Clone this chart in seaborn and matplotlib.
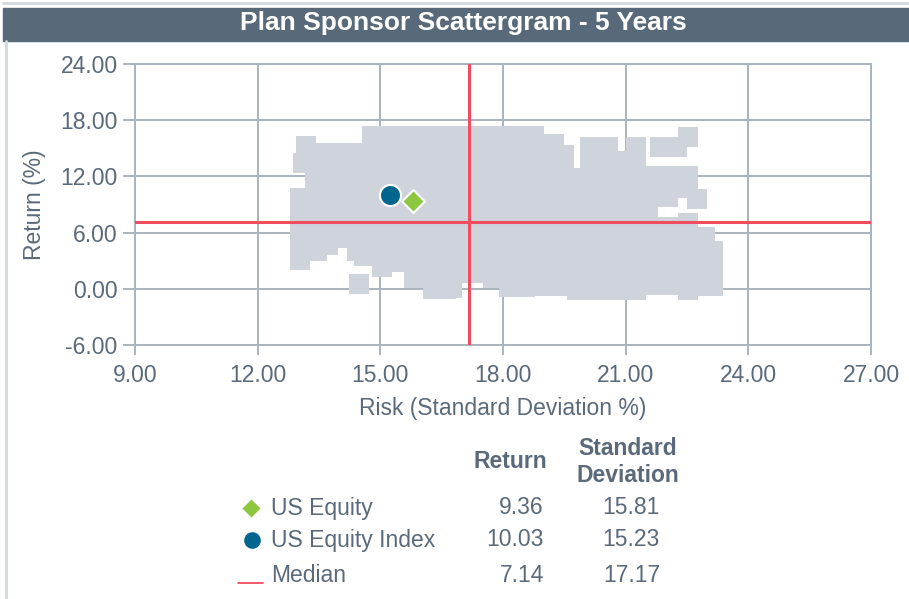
import matplotlib

matplotlib.use("Agg")
import matplotlib.pyplot as plt
import numpy as np
import pandas as pd
import seaborn as sns
from matplotlib.lines import Line2D
from matplotlib.patches import Rectangle

# ---- data -------------------------------------------------------------------
# plan sponsor universe: (risk, [returns])
universe_left = [
    (13.03, [3.1, 4.0, 6.05, 8.1, 9.7]),
    (13.10, [13.4]),
    (13.19, [15.3]),
    (13.40, [11.6]),
    (13.45, [4.0, 6.05, 8.1, 10.15, 12.2, 14.25, 14.5]),
    (13.72, [4.7, 6.05, 8.1, 10.15, 12.2, 14.25, 14.5]),
    (14.02, [5.4, 6.05, 8.1, 10.15, 12.2, 14.25, 14.5]),
    (14.43, [4.0, 6.05, 8.1, 10.15, 12.2, 14.25, 14.5]),
    (14.48, [0.55]),
    (14.60, [3.5]),
    (14.80, [4.0, 6.05, 8.1, 10.15, 12.2, 14.25, 16.3]),
    (15.03, [2.3]),
    (15.25, [2.9, 4.0, 6.05, 8.1, 10.15, 12.2, 14.25, 16.3]),
    (15.70, [2.9, 4.0, 6.05, 8.1, 10.15, 12.2, 14.25, 16.3]),
    (15.82, [1.2]),
    (16.15, [1.2, 1.95, 4.0, 6.05, 8.1, 10.15, 12.2, 14.25, 16.3]),
    (16.29, [0.0]),
]
universe_middle = [
    (16.60, [0.0, 1.95, 4.0, 6.05, 8.1, 10.15, 12.2, 14.25, 16.3]),
    (16.76, [0.05]),
    (16.98, [1.7, 3.0, 4.0, 6.05, 8.1, 10.15, 12.2, 14.25, 16.3]),
    (17.40, [1.7, 3.0, 4.0, 6.05, 8.1, 10.15, 12.2, 14.25, 16.3]),
    (17.75, [1.2, 1.95, 4.0, 6.05, 8.1, 10.15, 12.2, 14.25, 16.3]),
    (18.15, [0.2, 1.95, 4.0, 6.05, 8.1, 10.15, 12.2, 14.25, 16.3]),
    (18.55, [0.2, 1.95, 4.0, 6.05, 8.1, 10.15, 12.2, 14.25, 16.3]),
    (18.76, [0.3, 1.95, 4.0, 6.05, 8.1, 10.15, 12.2, 14.25, 16.3]),
    (19.25, [0.3, 1.95, 4.0, 6.05, 8.1, 10.15, 12.2, 14.25, 15.5]),
    (19.50, [0.3, 1.95, 4.0, 6.05, 8.1, 10.15, 12.2, 14.3]),
]
universe_right = [
    (19.81, [-0.1, 1.95, 4.0, 6.05, 8.1, 10.15, 11.8]),
    (20.12, [-0.1, 1.95, 4.0, 6.05, 8.1, 10.15, 12.2, 14.25, 15.1]),
    (20.58, [-0.1, 1.95, 4.0, 6.05, 8.1, 10.15, 12.2, 14.25, 15.1]),
    (20.90, [-0.1, 1.95, 4.0, 6.05, 8.1, 10.15, 12.2, 13.7]),
    (21.25, [-0.1, 1.95, 4.0, 6.05, 8.1, 10.15, 12.2, 14.25, 15.1]),
    (21.55, [0.4, 1.95, 4.0, 6.05, 8.1, 10.15, 12.1]),
    (21.85, [15.1]),
    (22.03, [0.4, 1.95, 4.0, 6.05, 6.6, 9.8, 10.15, 12.1]),
    (22.25, [15.1]),
    (22.52, [-0.1, 1.95, 4.0, 6.05, 7.0, 10.8, 12.1]),
    (22.53, [16.2]),
    (22.75, [9.6]),
    (22.95, [0.3, 1.95, 4.0, 5.5]),
    (23.14, [0.3, 1.95, 4.0]),
]

series_names = ["US Equity", "US Equity Index", "Median"]
series_return = [9.36, 10.03, 7.14]
series_sd = [15.81, 15.23, 17.17]

x_ticks = [9, 12, 15, 18, 21, 24, 27]
y_ticks = [-6, 0, 6, 12, 18, 24]

# ---- style ------------------------------------------------------------------
GRID = "#A9B3BF"
TEXT = "#5A6A7A"
CLOUD = "#CFD4DC"
RED = "#F04E5F"
GREEN = "#8DC63F"
BLUE = "#00668E"
BAR = "#586A79"
FS = 16.5

sns.set_theme(style="white")
plt.rcParams["font.family"] = ["Liberation Sans", "DejaVu Sans"]

rows = [(r, v) for cols in (universe_left, universe_middle, universe_right)
        for r, vals in cols for v in vals]
universe = pd.DataFrame(rows, columns=["risk", "return"])

fig = plt.figure(figsize=(9.09, 5.99), dpi=100)
ax = fig.add_axes([0.1485, 0.424, 0.8097, 0.469])

sns.scatterplot(data=universe, x="risk", y="return", marker="s", s=207,
                color=CLOUD, linewidth=0, ax=ax, zorder=2, legend=False)

ax.axvline(series_sd[2], color=RED, lw=2.2, zorder=3)
ax.axhline(series_return[2], color=RED, lw=2.2, zorder=3)

pts = pd.DataFrame({"risk": series_sd[:2], "return": series_return[:2]})
sns.scatterplot(data=pts.iloc[[1]], x="risk", y="return", marker="o", s=230,
                color=BLUE, edgecolor="white", linewidth=1.5, ax=ax, zorder=5, legend=False)
sns.scatterplot(data=pts.iloc[[0]], x="risk", y="return", marker="D", s=135,
                color=GREEN, edgecolor="white", linewidth=1.5, ax=ax, zorder=5, legend=False)

ax.set_xlim(9, 27)
ax.set_ylim(-6, 24)
ax.set_xticks(x_ticks)
ax.set_yticks(y_ticks)
ax.set_xticklabels([f"{t:.2f}" for t in x_ticks])
ax.set_yticklabels([f"{t:.2f}" for t in y_ticks])
ax.grid(True, color=GRID, lw=1.4)
ax.set_axisbelow(True)
for sp in ax.spines.values():
    sp.set_color(GRID)
    sp.set_linewidth(1.4)
ax.tick_params(axis="y", length=8.5, width=1.4, color=GRID, pad=4,
               labelsize=FS, labelcolor=TEXT, left=True)
ax.tick_params(axis="x", length=7, width=1.4, color=GRID, pad=7,
               labelsize=FS, labelcolor=TEXT, bottom=True)
ax.set_xlabel("Risk (Standard Deviation %)", fontsize=FS, color=TEXT, labelpad=7)
ax.set_ylabel("Return (%)", fontsize=FS, color=TEXT, labelpad=10)

# ---- title bar and frame ----------------------------------------------------
W, H = 909, 599
fig.patches.append(Rectangle((3 / W, 1 - 41 / H), 1, 33 / H, transform=fig.transFigure,
                             color=BAR, zorder=0))
fig.add_artist(Line2D([5.5 / W, 5.5 / W], [0, 1 - 41 / H], color="#D3D8DF", lw=2))
fig.add_artist(Line2D([3 / W, 1], [1 - 3 / H, 1 - 3 / H], color="#D3D8DF", lw=2))
fig.text(463 / W, 1 - 23 / H, "Plan Sponsor Scattergram - 5 Years", color="white",
         fontsize=19, fontweight="bold", ha="center", va="center")

# ---- table ------------------------------------------------------------------
fig.text(510 / W, 1 - 462 / H, "Return", fontsize=FS, fontweight="bold", color=TEXT,
         ha="center", va="center")
fig.text(628 / W, 1 - 462 / H, "Standard\nDeviation", fontsize=FS, fontweight="bold",
         color=TEXT, ha="center", va="center", multialignment="center", linespacing=1.17)
row_y = [508, 540, 576]
for name, ret, sd, y in zip(series_names, series_return, series_sd, row_y):
    fy = 1 - y / H
    fig.text(271 / W, fy, name, fontsize=FS, color=TEXT, ha="left", va="center")
    fig.text(544 / W, fy, f"{ret:.2f}", fontsize=FS, color=TEXT, ha="right", va="center")
    fig.text(660 / W, fy, f"{sd:.2f}", fontsize=FS, color=TEXT, ha="right", va="center")
fig.add_artist(Line2D([251 / W], [1 - 508 / H], marker="D", markersize=10.5,
                      color=GREEN, markeredgecolor="white", markeredgewidth=1))
fig.add_artist(Line2D([252 / W], [1 - 540 / H], marker="o", markersize=13,
                      color=BLUE, markeredgecolor="white", markeredgewidth=1))
fig.add_artist(Line2D([238 / W, 263 / W], [1 - 583 / H, 1 - 583 / H], color=RED, lw=1.3))

fig.savefig("out.png", dpi=100)
